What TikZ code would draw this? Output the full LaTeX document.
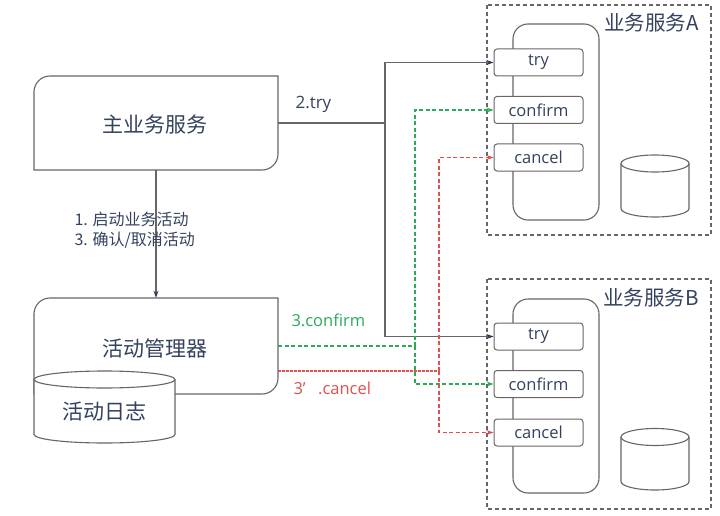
\documentclass[tikz,border=0pt]{standalone}
\usepackage{fontspec}
\setmainfont{Open Sans}
\newfontfamily\cjk{Noto Sans CJK SC}
\usetikzlibrary{arrows.meta}
\definecolor{txt}{HTML}{34425E}
\definecolor{ln}{HTML}{666666}
\definecolor{gr}{HTML}{2AAA5A}
\definecolor{rd}{HTML}{E2504C}
\definecolor{nav}{HTML}{2B3A55}
\tikzset{
  big/.style={font=\cjk\fontsize{21}{25}\selectfont, text=txt},
  small/.style={font=\cjk\fontsize{16}{19}\selectfont, text=txt},
  method/.style={draw=ln, line width=1pt, fill=white, rounded corners=3pt,
    minimum width=89pt, minimum height=27pt, inner sep=0pt,
    font=\fontsize{16.5}{19}\selectfont, text=txt},
  holder/.style={minimum width=244pt, inner sep=0pt},
  outline/.style={draw=ln, line width=1.1pt},
  svcbox/.style={draw=ln, line width=1.1pt, dash pattern=on 4pt off 3pt},
  arr/.style={draw=ln, line width=1.1pt, -{Stealth[length=7pt,width=5pt,color=nav]}},
  garr/.style={draw=gr, line width=1.2pt, dash pattern=on 4pt off 2.5pt, -{Stealth[length=7pt,width=5pt]}},
  rarr/.style={draw=rd, line width=1.1pt, dash pattern=on 4pt off 2.5pt, -{Stealth[length=7pt,width=5pt]}},
}
\begin{document}
\begin{tikzpicture}[x=1pt,y=-1pt]
\useasboundingbox (0,0) rectangle (720,516);

% service group boxes
\draw[svcbox] (487,5) rectangle (711,235);
\draw[svcbox] (487,279) rectangle (711,509);
\node[big, font=\cjk\fontsize{20.5}{24}\selectfont, anchor=east] (la) at (702,23) {业务服务A};
\node[big, font=\cjk\fontsize{20.5}{24}\selectfont, anchor=east] (lb) at (702,298) {业务服务B};

% inner service bodies
\draw[outline, rounded corners=15pt] (513,24) rectangle (599,220);
\draw[outline, rounded corners=15pt] (513,299) rectangle (599,493);

% method boxes
\node[method] (tryA) at (538.5,62.5) {try};
\node[method] (confA) at (538.5,110) {confirm};
\node[method] (canA) at (538.5,157.5) {cancel};
\node[method] (tryB) at (538.5,336.5) {try};
\node[method] (confB) at (538.5,384) {confirm};
\node[method] (canB) at (538.5,432.5) {cancel};

% databases A and B
\filldraw[outline, fill=white] (621,163.5) -- (621,208.5) arc[start angle=180,end angle=0,x radius=34,y radius=8.5] -- (689,163.5) arc[start angle=0,end angle=-180,x radius=34,y radius=8.5] -- cycle;
\draw[outline] (621,163.5) arc[start angle=180,end angle=0,x radius=34,y radius=8.5];
\filldraw[outline, fill=white] (621,437) -- (621,481.5) arc[start angle=180,end angle=0,x radius=34,y radius=8.5] -- (689,437) arc[start angle=0,end angle=-180,x radius=34,y radius=8.5] -- cycle;
\draw[outline] (621,437) arc[start angle=180,end angle=0,x radius=34,y radius=8.5];

% main business service
\node[holder, minimum height=94pt] (main) at (156,123) {};
\node[big] (maint) at (155,125) {主业务服务};
\draw[outline] (34,170) -- (34,92) arc[start angle=180,end angle=270,radius=16] -- (278,76) -- (278,154) arc[start angle=0,end angle=90,radius=16] -- cycle;

% activity manager
\node[holder, minimum height=96pt] (mgr) at (156,346) {};
\node[big] (mgrt) at (155,348) {活动管理器};
\draw[outline] (34,394) -- (34,314) arc[start angle=180,end angle=270,radius=16] -- (278,298) -- (278,378) arc[start angle=0,end angle=90,radius=16] -- cycle;

% activity log cylinder
\filldraw[outline, fill=white] (34,379.5) -- (34,434.5) arc[start angle=180,end angle=0,x radius=70.5,y radius=8.5] -- (175,379.5) arc[start angle=0,end angle=-180,x radius=70.5,y radius=8.5] -- cycle;
\draw[outline] (34,379.5) arc[start angle=180,end angle=0,x radius=70.5,y radius=8.5];
\node[big] (log) at (104,412) {活动日志};

% step 1/3 arrow
\draw[arr] (main.south) -- (mgr.north);
\node[small, anchor=west] (l1) at (71,219) {1. 启动业务活动};
\node[small, anchor=west] (l2) at (71,240) {3. 确认/取消活动};

% try connectors
\coordinate (jt) at (385,123);
\draw[arr] (main.east) -- (jt) |- (tryA.west);
\draw[arr] (jt) |- (tryB.west);
\node[anchor=west, font=\fontsize{17}{20}\selectfont, text=txt] (ltry) at (292,104) {2.try};

% confirm connectors
\coordinate (jc) at (415,346);
\draw[garr] (mgr.east) -- (jc) |- (confA.west);
\draw[garr] (jc) |- (confB.west);
\node[anchor=west, font=\fontsize{16.5}{19}\selectfont, text=gr] (lconf) at (288,320) {3.confirm};

% cancel connectors
\coordinate (jr) at (439,371);
\draw[draw=rd, line width=1.8pt, dash pattern=on 2.5pt off 1.5pt] (mgr.east |- jr) -- (jr);
\draw[rarr] (jr) |- (canA.west);
\draw[rarr] (jr) |- (canB.west);
\node[anchor=west, font=\fontsize{16.5}{19}\selectfont, text=rd] (lcan) at (290,388) {3’\hspace{0.75em}.cancel};
\end{tikzpicture}
\end{document}
